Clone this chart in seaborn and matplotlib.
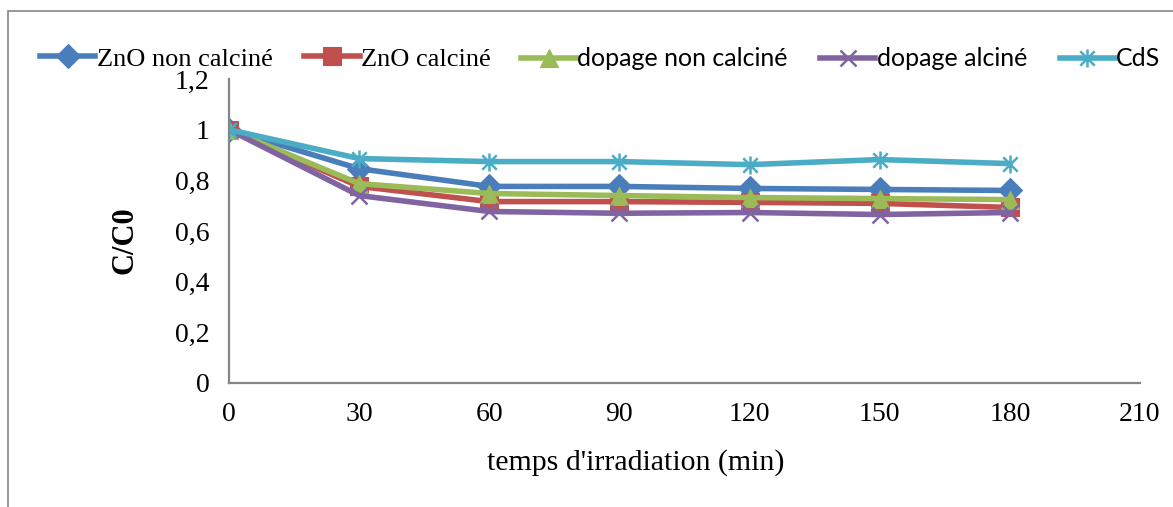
import numpy as np
import pandas as pd
import matplotlib
matplotlib.use("Agg")
import matplotlib.pyplot as plt
from matplotlib.path import Path
from matplotlib.patches import Rectangle
import seaborn as sns

# irradiation time (min)
temps = [0, 30, 60, 90, 120, 150, 180]

zno_non_calcine = [1.0, 0.846, 0.776, 0.776, 0.768, 0.764, 0.760]
zno_calcine = [1.0, 0.776, 0.716, 0.716, 0.713, 0.709, 0.693]
dopage_non_calcine = [1.0, 0.787, 0.748, 0.740, 0.732, 0.728, 0.724]
dopage_alcine = [1.0, 0.740, 0.677, 0.670, 0.673, 0.665, 0.673]
cds = [1.0, 0.886, 0.874, 0.874, 0.862, 0.882, 0.866]

series_names = ["ZnO non calciné", "ZnO calciné", "dopage non calciné",
                "dopage alciné", "CdS"]
series_values = [zno_non_calcine, zno_calcine, dopage_non_calcine,
                 dopage_alcine, cds]

# excel 2007 palette
colors = ["#4A7EBB", "#C0504D", "#9BBB59", "#8064A2", "#4BACC6"]

# excel "star" marker: an x with a vertical stroke
star_path = Path(
    [(-1, -1), (1, 1), (-1, 1), (1, -1), (0, -1.25), (0, 1.25)],
    [Path.MOVETO, Path.LINETO, Path.MOVETO, Path.LINETO, Path.MOVETO, Path.LINETO],
)
markers = ["D", "s", "^", "x", star_path]
marker_sizes = [12.5, 13, 13, 12, 13]

df = pd.concat(
    [pd.DataFrame({"temps": temps, "C/C0": vals, "serie": name})
     for name, vals in zip(series_names, series_values)],
    ignore_index=True,
)

fig = plt.figure(figsize=(11.73, 5.07), dpi=100)
ax = fig.add_axes([229 / 1173, 1 - 383 / 507, (1140 - 229) / 1173, (383 - 79) / 507])

for name, color, mk, ms in zip(series_names, colors, markers, marker_sizes):
    sub = df[df["serie"] == name]
    unfilled = mk in ("x",) or isinstance(mk, Path)
    sns.lineplot(
        data=sub, x="temps", y="C/C0", ax=ax, label=name,
        color=color, linewidth=4.0, marker=mk, markersize=ms,
        markeredgecolor=color, markerfacecolor=color,
        markeredgewidth=1.8 if unfilled else 0.8,
        solid_joinstyle="round",
    )

ax.set_xlim(0, 210)
ax.set_ylim(0, 1.2)
ax.set_xticks(np.arange(0, 211, 30))
ax.set_yticks(np.arange(0, 1.21, 0.2))
ax.set_yticklabels([f"{v:g}".replace(".", ",") for v in np.arange(0, 1.21, 0.2)])

serif = ["Liberation Serif", "DejaVu Serif"]
sans = ["Lato", "DejaVu Sans"]
for lab in ax.get_xticklabels() + ax.get_yticklabels():
    lab.set_family(serif)
    lab.set_fontsize(20)
ax.tick_params(axis="both", length=0)
ax.tick_params(axis="y", pad=14)
ax.tick_params(axis="x", pad=14)

ax.set_xlabel("temps d'irradiation (min)", family=serif, fontsize=21.5, va="center")
ax.xaxis.set_label_coords((636 - 229) / 911, (383 - 463) / 304)
ax.set_ylabel("C/C0", family=serif, fontsize=22, fontweight="bold", va="center")
ax.yaxis.set_label_coords((125 - 229) / 911, (383 - 240) / 304)

for side in ["top", "right"]:
    ax.spines[side].set_visible(False)
for side in ["left", "bottom"]:
    ax.spines[side].set_color("#868686")
    ax.spines[side].set_linewidth(1.6)

ax.get_legend().remove()
handles, labels = ax.get_legend_handles_labels()
leg_y = 1 - 59 / 507
common = dict(frameon=False, handletextpad=0.05, borderaxespad=0, borderpad=0)

# the first two entries are in a serif face, the others in a sans face
leg1 = fig.legend(
    handles[:2], labels[:2], loc="center left", bbox_to_anchor=(40 / 1173, leg_y),
    ncol=2, prop={"family": serif, "size": 19},
    handlelength=2.1, columnspacing=1.2, **common,
)
leg2 = fig.legend(
    handles[2:], labels[2:], loc="center right", bbox_to_anchor=(1160 / 1173, leg_y),
    ncol=3, prop={"family": sans, "size": 18},
    handlelength=2.2, columnspacing=1.3, **common,
)

# outer chart frame (cut off on right and bottom)
fig.patches.append(Rectangle((8 / 1173, -0.05), 1.1, 1 - 11 / 507 + 0.05,
                             transform=fig.transFigure, fill=False,
                             edgecolor="#868686", linewidth=1.2))

fig.savefig("out.png", dpi=100)
